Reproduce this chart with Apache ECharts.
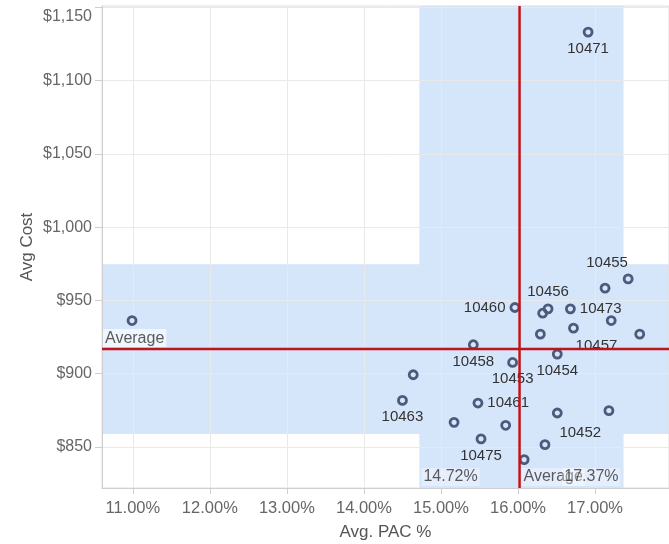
<!DOCTYPE html>
<html>
<head>
<meta charset="utf-8">
<script src="https://cdn.jsdelivr.net/npm/echarts@6/dist/echarts.min.js"></script>
<style>
html,body{margin:0;padding:0;background:#fff;}
#chart{width:669px;height:544px;}
</style>
</head>
<body>
<div id="chart"></div>
<script>
// ---- data ----
const pacPct = [10.99, 17.43, 17.13, 15.96, 16.39, 16.32, 16.68, 17.21, 16.72, 16.29, 17.58, 15.42, 16.51, 15.93, 14.64, 14.50, 15.48, 16.51, 17.18, 15.17, 15.84, 15.52, 16.35, 16.08, 16.91];
const avgCost = [936.3, 964.7, 958.4, 945.2, 944.3, 941.3, 944.3, 936.3, 931.1, 927.0, 927.0, 919.8, 913.4, 907.7, 899.3, 881.8, 880.0, 873.2, 874.8, 866.8, 864.8, 855.5, 851.6, 841.4, 1133.2];
const pointLabels = ['', '', '10455', '10460', '10456', '', '10473', '', '10457', '', '', '10458', '10454', '10453', '', '10463', '10461', '10452', '', '', '', '10475', '', '', '10471'];
const averagePac = 16.02;
const averageCost = 916.8;
const pacBand = [14.72, 17.37];
const costBand = [858.9, 974.8];
const xTicks = [11, 12, 13, 14, 15, 16, 17];
const yTicks = [850, 900, 950, 1000, 1050, 1100, 1150];
const xRange = [10.6, 17.96];
const yRange = [822, 1151];

// ---- label placement (style only) ----
const labelSide = ['bottom', 'bottom', 'top', 'left', 'top', 'bottom', 'right', 'bottom', 'bottom', 'bottom', 'bottom', 'bottom', 'bottom', 'bottom', 'bottom', 'bottom', 'right', 'bottom', 'bottom', 'bottom', 'bottom', 'bottom', 'bottom', 'bottom', 'bottom'];
const labelShift = {2: [2, -8], 8: [23, 1], 17: [23, 3]};

const FONT = '"Liberation Sans", Arial, sans-serif';
const BAND = '#d5e5fa';
const RED = '#c0141c';

const points = pacPct.map((x, i) => ({
  value: [x, avgCost[i]],
  label: {
    show: pointLabels[i] !== '',
    formatter: pointLabels[i],
    position: labelSide[i],
    distance: 4
  }
}));

function money(v) {
  return '$' + v.toLocaleString('en-US');
}

const chart = echarts.init(document.getElementById('chart'), null, {renderer: 'canvas'});
chart.setOption({
  animation: false,
  backgroundColor: '#fff',
  grid: {left: 102, top: 6, right: 0, bottom: 56, outerBoundsMode: 'none', containLabel: false, show: true, borderColor: '#dedede', borderWidth: 1, backgroundColor: 'transparent'},
  xAxis: {
    type: 'value', min: xRange[0], max: xRange[1],
    name: 'Avg. PAC %', nameLocation: 'middle', nameGap: 36, nameMoveOverlap: false,
    nameTextStyle: {fontFamily: FONT, fontSize: 17, color: '#555'},
    axisLine: {show: true, lineStyle: {color: '#cfcfcf'}},
    axisTick: {show: true, length: 6, lineStyle: {color: '#cfcfcf'}, customValues: xTicks},
    axisLabel: {customValues: xTicks, margin: 12, fontFamily: FONT, fontSize: 16.5, color: '#666', formatter: v => v.toFixed(2) + '%'},
    splitLine: {show: true, lineStyle: {color: '#e9e9e9'}}
  },
  yAxis: {
    type: 'value', min: yRange[0], max: yRange[1],
    name: 'Avg Cost', nameLocation: 'middle', nameGap: 66, nameMoveOverlap: false,
    nameTextStyle: {fontFamily: FONT, fontSize: 17, color: '#555'},
    axisLine: {show: true, lineStyle: {color: '#cfcfcf'}},
    axisTick: {show: true, length: 7, lineStyle: {color: '#cfcfcf'}, customValues: yTicks},
    axisLabel: {
      customValues: yTicks, margin: 10, fontFamily: FONT, fontSize: 16, color: '#666',
      formatter: v => v === yTicks[yTicks.length - 1] ? '{top|' + money(v) + '}' : money(v),
      rich: {top: {fontFamily: FONT, fontSize: 16, color: '#666', padding: [18, 0, 0, 0]}}
    },
    splitLine: {show: true, lineStyle: {color: '#e9e9e9'}}
  },
  series: [
    {
      type: 'custom', z: -1, silent: true,
      data: [[0, pacBand[0], pacBand[1]], [1, costBand[0], costBand[1]]],
      encode: {x: 1, y: 2},
      renderItem: function (params, api) {
        const cs = params.coordSys;
        const kind = api.value(0), a = api.value(1), b = api.value(2);
        let shape;
        if (kind === 0) {
          const x1 = api.coord([a, yRange[0]])[0], x2 = api.coord([b, yRange[0]])[0];
          shape = {x: x1, y: cs.y, width: x2 - x1, height: cs.height};
        } else {
          const y1 = api.coord([xRange[0], b])[1], y2 = api.coord([xRange[0], a])[1];
          shape = {x: cs.x, y: y1, width: cs.width, height: y2 - y1};
        }
        return {type: 'rect', shape: shape, style: {fill: BAND}};
      }
    },
    {
      type: 'scatter', z: 2,
      symbol: 'circle', symbolSize: 8,
      itemStyle: {color: 'rgba(0,0,0,0)', borderColor: '#4e5a7c', borderWidth: 2.8, opacity: 1},
      label: {fontFamily: FONT, fontSize: 15, color: '#333'},
      labelLayout: function (p) {
        const s = labelShift[p.dataIndex];
        return s ? {dx: s[0], dy: s[1], hideOverlap: false} : {hideOverlap: false};
      },
      data: points
    },
    {
      type: 'custom', z: 3, silent: true,
      data: [[averagePac, averageCost]],
      renderItem: function (params, api) {
        const cs = params.coordSys;
        const p = api.coord([api.value(0), api.value(1)]);
        return {type: 'group', children: [
          {type: 'line', shape: {x1: p[0], y1: cs.y, x2: p[0], y2: cs.y + cs.height}, style: {stroke: RED, lineWidth: 2.5}},
          {type: 'line', shape: {x1: cs.x, y1: p[1], x2: cs.x + cs.width, y2: p[1]}, style: {stroke: RED, lineWidth: 2.5}}
        ]};
      }
    },
    {
      type: 'scatter', z: 4, silent: true, symbolSize: 0,
      label: {show: true, fontFamily: FONT, fontSize: 16, color: '#333', backgroundColor: 'rgba(255,255,255,0.45)', padding: [1, 2]},
      data: [
        {value: [xRange[0], averageCost], label: {formatter: 'Average', position: 'right', distance: 1, offset: [0, -11], backgroundColor: 'rgba(255,255,255,0.8)'}},
        {value: [averagePac, yRange[0]], label: {formatter: 'Average', position: 'right', distance: 2, offset: [0, -11]}},
        {value: [pacBand[0], yRange[0]], label: {formatter: pacBand[0].toFixed(2) + '%', position: 'right', distance: 2, offset: [0, -11]}},
        {value: [pacBand[1], yRange[0]], label: {formatter: pacBand[1].toFixed(2) + '%', position: 'left', distance: 3, offset: [0, -11]}}
      ]
    }
  ]
});
</script>
</body>
</html>
